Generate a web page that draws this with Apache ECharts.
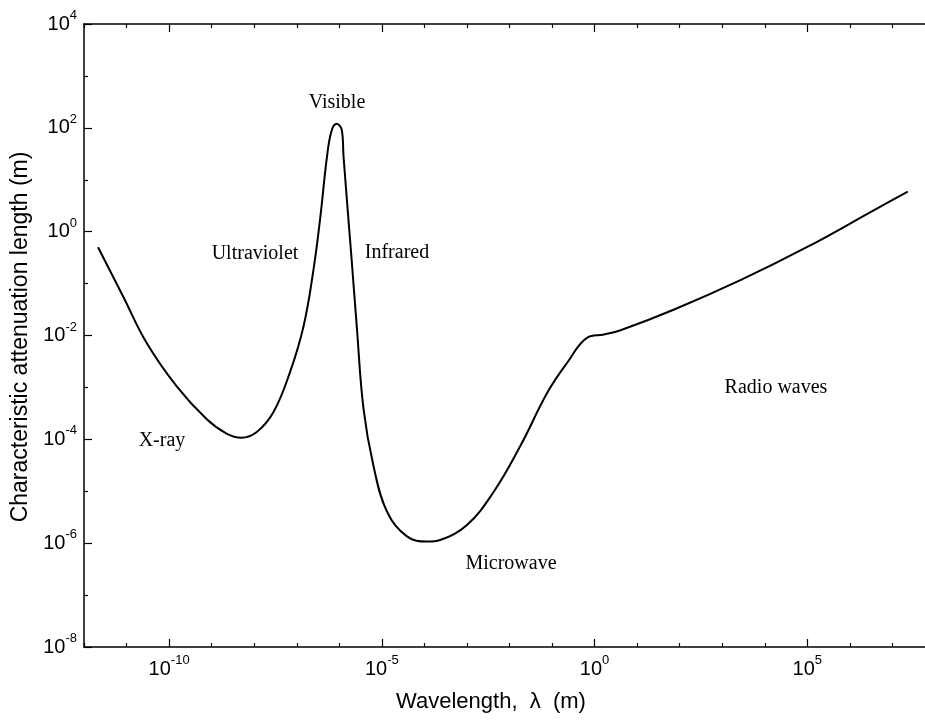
<!DOCTYPE html>
<html lang="en">
<head>
    <meta charset="UTF-8">
    <title>Attenuation length vs wavelength</title>
    <style>
        html, body { margin: 0; padding: 0; background: #fff; }
        #main { width: 925px; height: 722px; }
    </style>
</head>
<body>
<div id="main"></div>
<script src="https://cdn.jsdelivr.net/npm/echarts@6/dist/echarts.min.js"></script>
<script>
    // curve, as log10 values
    const logWavelength = [
        -11.67, -11.08, -10.53, -9.83, -9.12, -8.65, -8.30, -7.94, -7.55, -7.16,
        -6.84, -6.61, -6.45, -6.29, -6.18, -6.06, -5.94, -5.90, -5.71, -5.59,
        -5.43, -5.20, -4.88, -4.41, -3.94, -3.63, -3.00, -2.37, -1.74, -1.11,
        -0.64, -0.17, 0.22, 0.61, 1.87, 3.44, 5.01, 6.58, 7.36
    ];
    const logAttenuation = [
        -0.30, -1.25, -2.14, -2.97, -3.61, -3.89, -3.97, -3.86, -3.48, -2.71,
        -1.82, -0.75, 0.25, 1.44, 1.95, 2.08, 1.95, 1.44, -0.54, -1.82,
        -3.42, -4.50, -5.39, -5.87, -5.97, -5.94, -5.65, -5.01, -4.12, -3.10,
        -2.52, -2.04, -1.98, -1.90, -1.50, -0.93, -0.29, 0.42, 0.77
    ];
    const xRange = [-12, 8];   // exponents of the wavelength axis
    const yRange = [-8, 4];    // exponents of the attenuation axis
    const xMajor = [-10, -5, 0, 5];
    const xMinor = [-12, -11, -9, -8, -7, -6, -4, -3, -2, -1, 1, 2, 3, 4, 6, 7, 8];

    const regionNames = ['X-ray', 'Ultraviolet', 'Visible', 'Infrared', 'Microwave', 'Radio waves'];
    const regionSpots = [[162, 441], [255, 254], [337, 103], [397, 253], [511, 564], [776, 388]];

    const points = logWavelength.map((x, i) => [x, logAttenuation[i]]);

    const powerLabel = {
        color: '#000',
        formatter: v => '{a|10}{b|' + v + '}',
        rich: {
            a: { fontSize: 20, fontFamily: 'Liberation Sans', color: '#000', lineHeight: 30 },
            b: { fontSize: 13, fontFamily: 'Liberation Sans', color: '#000', lineHeight: 14, verticalAlign: 'top' }
        }
    };
    const tickStyle = { color: '#000', width: 1.2 };

    // one x axis per tick size and side
    function xAxisAt(position, values, len, withLine, withLabels) {
        return {
            type: 'value', position: position, min: xRange[0], max: xRange[1], interval: 1,
            axisLine: { show: withLine, onZero: false, lineStyle: { color: '#000', width: 1.5 } },
            axisTick: { inside: true, length: len, customValues: values, lineStyle: tickStyle },
            axisLabel: withLabels
                ? Object.assign({ margin: 7, customValues: xMajor }, powerLabel)
                : { show: false },
            splitLine: { show: false }
        };
    }

    const myChart = echarts.init(document.getElementById('main'));
    const option = {
        backgroundColor: '#fff',
        animation: false,
        grid: { left: 84, right: -10, top: 24, bottom: 75, outerBoundsMode: 'none' },
        xAxis: [
            xAxisAt('bottom', xMajor, 8, true, true),
            xAxisAt('bottom', xMinor, 4, false, false),
            xAxisAt('top', xMajor, 8, true, false),
            xAxisAt('top', xMinor, 4, false, false)
        ],
        yAxis: {
            type: 'value', min: yRange[0], max: yRange[1], interval: 2,
            axisLine: { onZero: false, lineStyle: { color: '#000', width: 1.5 } },
            axisTick: { inside: true, length: 8, lineStyle: tickStyle },
            minorTick: { show: true, splitNumber: 2, length: 4, lineStyle: tickStyle },
            axisLabel: Object.assign({ margin: 7 }, powerLabel),
            splitLine: { show: false }
        },
        series: [{
            type: 'line',
            data: points,
            showSymbol: false,
            smooth: 0.4,
            lineStyle: { color: '#000', width: 2 }
        }],
        graphic: [
            {
                type: 'text', x: 21, y: 337, rotation: Math.PI / 2,
                style: {
                    text: 'Characteristic attenuation length (m)',
                    font: '23px "Liberation Sans"', fill: '#000',
                    textAlign: 'center', textVerticalAlign: 'middle'
                }
            },
            {
                type: 'text', x: 491, y: 702,
                style: {
                    text: 'Wavelength,  \u03bb  (m)',
                    font: '22px "Liberation Sans"', fill: '#000',
                    textAlign: 'center', textVerticalAlign: 'middle'
                }
            }
        ].concat(regionNames.map((name, i) => ({
            type: 'text', x: regionSpots[i][0], y: regionSpots[i][1],
            style: {
                text: name, font: '20px "Liberation Serif"', fill: '#000',
                textAlign: 'center', textVerticalAlign: 'middle'
            }
        })))
    };
    myChart.setOption(option);
</script>
</body>
</html>
